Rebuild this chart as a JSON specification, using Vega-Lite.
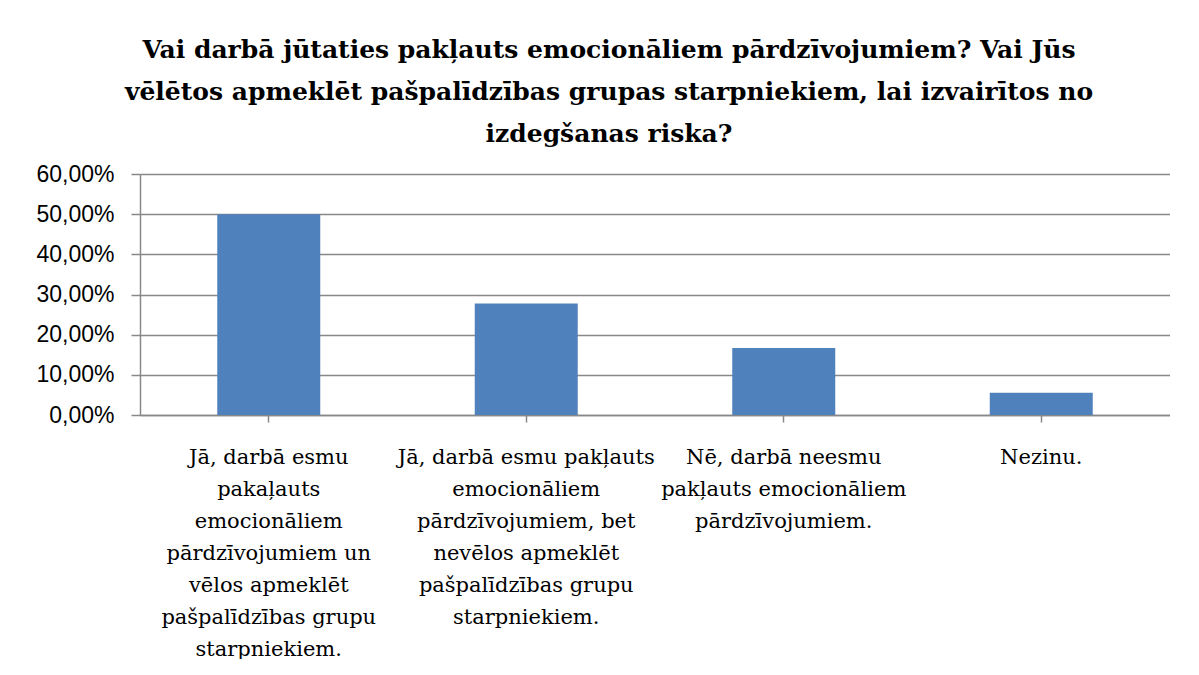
{
  "$schema": "https://vega.github.io/schema/vega-lite/v6.json",
  "width": 1030,
  "height": 241,
  "autosize": {"type": "pad"},
  "padding": {"left": 35, "top": 38, "right": 0, "bottom": 0},
  "background": "white",
  "config": {
    "locale": {"number": {"decimal": ",", "thousands": " ", "grouping": [3], "currency": ["", " €"]}},
    "view": {"stroke": null}
  },
  "title": {
    "text": ["Vai darbā jūtaties pakļauts emocionāliem pārdzīvojumiem? Vai Jūs", "vēlētos apmeklēt pašpalīdzības grupas starpniekiem, lai izvairītos no", "izdegšanas riska?"],
    "font": "DejaVu Serif",
    "fontSize": 25,
    "fontWeight": "bold",
    "lineHeight": 42,
    "color": "black",
    "anchor": "middle",
    "frame": "group",
    "dx": -46,
    "offset": 16
  },
  "data": {
    "values": [
      {"atbilde": "Jā, darbā esmu pakaļauts emocionāliem pārdzīvojumiem un vēlos apmeklēt pašpalīdzības grupu starpniekiem.", "procenti": 0.5},
      {"atbilde": "Jā, darbā esmu pakļauts emocionāliem pārdzīvojumiem, bet nevēlos apmeklēt pašpalīdzības grupu starpniekiem.", "procenti": 0.2778},
      {"atbilde": "Nē, darbā neesmu pakļauts emocionāliem pārdzīvojumiem.", "procenti": 0.1667},
      {"atbilde": "Nezinu.", "procenti": 0.0556}
    ]
  },
  "mark": {"type": "bar", "color": "#4F81BD"},
  "encoding": {
    "x": {
      "field": "atbilde",
      "type": "nominal",
      "sort": null,
      "scale": {"paddingInner": 0.6, "paddingOuter": 0.3},
      "axis": {
        "title": null,
        "labelAngle": 0,
        "labelFont": "DejaVu Serif",
        "labelFontSize": 21,
        "labelLineHeight": 32,
        "labelColor": "black",
        "labelLimit": 0,
        "labelPadding": 24,
        "tickSize": 7,
        "tickWidth": 1.5,
        "tickColor": "#888888",
        "domainColor": "#888888",
        "domainWidth": 1.5,
        "labelExpr": "indexof(datum.value, 'un vēlos') >= 0 ? ['Jā, darbā esmu', 'pakaļauts', 'emocionāliem', 'pārdzīvojumiem un', 'vēlos apmeklēt', 'pašpalīdzības grupu', 'starpniekiem.'] : indexof(datum.value, 'bet') >= 0 ? ['Jā, darbā esmu pakļauts', 'emocionāliem', 'pārdzīvojumiem, bet', 'nevēlos apmeklēt', 'pašpalīdzības grupu', 'starpniekiem.'] : indexof(datum.value, 'neesmu') >= 0 ? ['Nē, darbā neesmu', 'pakļauts emocionāliem', 'pārdzīvojumiem.'] : datum.value"
      }
    },
    "y": {
      "field": "procenti",
      "type": "quantitative",
      "scale": {"domain": [0, 0.6], "nice": false},
      "axis": {
        "title": null,
        "values": [0, 0.1, 0.2, 0.3, 0.4, 0.5, 0.6],
        "format": ".2%",
        "labelFont": "Liberation Sans",
        "labelFontSize": 23,
        "labelColor": "black",
        "labelPadding": 17,
        "tickSize": 9,
        "tickWidth": 1.5,
        "tickColor": "#888888",
        "gridColor": "#888888",
        "gridWidth": 1.5,
        "gridOpacity": 1,
        "domainColor": "#888888",
        "domainWidth": 1.5
      }
    }
  }
}
